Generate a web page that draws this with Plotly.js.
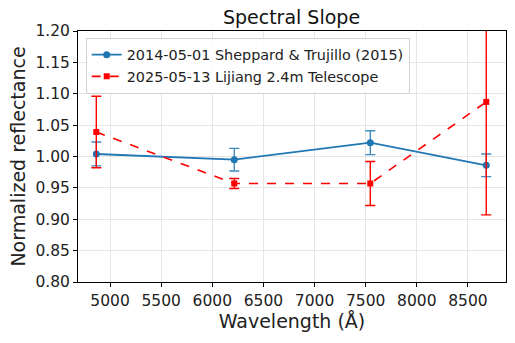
<!DOCTYPE html>
<html>
<head>
<meta charset="utf-8">
<script src="https://cdn.plot.ly/plotly-3.0.1.min.js"></script>
<style>html,body{margin:0;padding:0;background:#fff;}#chart{width:515px;height:343px;}</style>
</head>
<body>
<div id="chart"></div>
<script>
const wavelength = [4866, 6215, 7545, 8679];
const sheppardValues = [1.004, 0.995, 1.022, 0.986];
const sheppardErrors = [0.019, 0.018, 0.019, 0.018];
const lijiangValues = [1.039, 0.957, 0.957, 1.087];
const lijiangErrors = [0.057, 0.008, 0.035, 0.180];
const sheppardLabel = "2014-05-01 Sheppard & Trujillo (2015)";
const lijiangLabel = "2025-05-13 Lijiang 2.4m Telescope";
const xTicks = [5000, 5500, 6000, 6500, 7000, 7500, 8000, 8500];
const yTicks = [0.80, 0.85, 0.90, 0.95, 1.00, 1.05, 1.10, 1.15, 1.20];

const font = "DejaVu Sans, sans-serif";
const traces = [
  {
    x: wavelength, y: sheppardValues, name: sheppardLabel, type: "scatter", mode: "lines+markers",
    line: {color: "#1f77b4", width: 1.8},
    marker: {color: "#1f77b4", size: 7, symbol: "circle"},
    error_y: {type: "data", array: sheppardErrors, visible: true, color: "rgba(31,119,180,0.85)", thickness: 1.4, width: 5}
  },
  {
    x: wavelength, y: lijiangValues, name: lijiangLabel, type: "scatter", mode: "lines+markers",
    line: {color: "red", width: 1.6, dash: "dash"},
    marker: {color: "red", size: 6, symbol: "square"},
    error_y: {type: "data", array: lijiangErrors, visible: true, color: "red", thickness: 1.4, width: 5}
  }
];
const layout = {
  width: 515, height: 343,
  margin: {l: 78, r: 9, t: 31, b: 61},
  paper_bgcolor: "#fff", plot_bgcolor: "#fff",
  font: {family: font, color: "#222", size: 15.5},
  title: {text: "Spectral Slope", font: {family: font, size: 19, color: "#111"}, x: 0.566, xanchor: "center", y: 0.95, yanchor: "middle"},
  showlegend: true,
  legend: {x: 0.018, y: 0.973, xanchor: "left", yanchor: "top", bgcolor: "rgba(255,255,255,0.85)",
           bordercolor: "#d0d0d0", borderwidth: 1, font: {family: font, size: 14.4, color: "#222"}, tracegroupgap: 0,
           itemwidth: 30},
  xaxis: {
    range: [4687, 8872], tickvals: xTicks, ticktext: xTicks.map(String),
    showgrid: true, gridcolor: "#e6e6e6", gridwidth: 1,
    showline: true, linecolor: "#000", linewidth: 1, mirror: true,
    ticks: "outside", ticklen: 4, tickcolor: "#000", zeroline: false,
    tickfont: {family: font, size: 15.5, color: "#222"},
    title: {text: "Wavelength (Å)", font: {family: font, size: 19, color: "#222"}, standoff: 6}
  },
  yaxis: {
    range: [0.80, 1.20], tickvals: yTicks, ticktext: yTicks.map(v => v.toFixed(2)),
    showgrid: true, gridcolor: "#e6e6e6", gridwidth: 1,
    showline: true, linecolor: "#000", linewidth: 1, mirror: true,
    ticks: "outside", ticklen: 4, tickcolor: "#000", zeroline: false,
    tickfont: {family: font, size: 15.5, color: "#222"},
    title: {text: "Normalized reflectance", font: {family: font, size: 19, color: "#222"}, standoff: 4}
  }
};
Plotly.newPlot("chart", traces, layout, {displayModeBar: false, staticPlot: true});
</script>
</body>
</html>
